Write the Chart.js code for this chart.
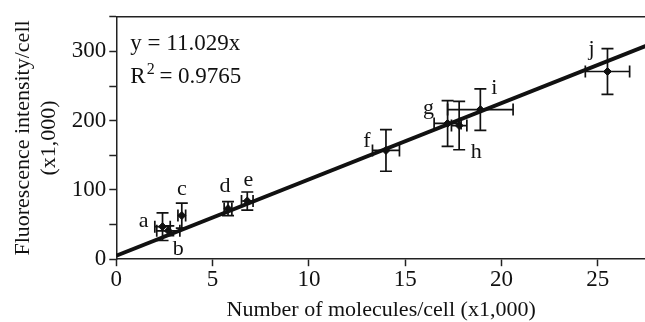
<!DOCTYPE html>
<html>
<head>
<meta charset="utf-8">
<script src="https://cdn.jsdelivr.net/npm/chart.js@4/dist/chart.umd.min.js"></script>
<style>
  html, body { margin: 0; padding: 0; background: #fff; overflow: hidden; }
  #wrap { width: 651px; height: 322px; }
</style>
</head>
<body>
<div id="wrap"><canvas id="grafico"></canvas></div>
<script>
// pontos medidos (x1,000)
const rotulos = ["a", "b", "c", "d", "e", "f", "g", "h", "i", "j"];
const moleculas = [2.4, 2.7, 3.4, 5.8, 6.8, 14.0, 17.2, 17.8, 18.9, 25.5];
const fluorescencia = [47, 41, 63, 73, 84, 157, 196, 193, 216, 271];
const erroX = [0.4, 0.6, 0.2, 0.2, 0.3, 0.7, 0.7, 0.4, 1.7, 1.15];
const erroY = [20, 7, 18, 10, 13, 30, 33, 35, 30, 33];
// posicao do rotulo: dx, dy em pixels
const rotuloDesloc = [[-19, -5], [10, 18], [0, -26], [-3, -22], [1, -21], [-19, -9], [-19, -15], [17, 27], [14, -21], [-16, -22]];

// reta de ajuste
const ajusteX = [0, 27.5];
const ajusteY = [5, 308];

const eixoXTicks = [0, 5, 10, 15, 20, 25];
const eixoYTicks = [0, 100, 200, 300];

const fonte = "'Liberation Serif', 'DejaVu Serif', serif";

const errorBars = {
  id: "errorBars",
  afterDatasetsDraw(chart) {
    const ctx = chart.ctx;
    const sx = chart.scales.x, sy = chart.scales.y;
    const cap = 6;
    ctx.save();
    ctx.strokeStyle = "#111";
    ctx.lineWidth = 1.7;
    moleculas.forEach((x, i) => {
      const y = fluorescencia[i];
      const px = sx.getPixelForValue(x), py = sy.getPixelForValue(y);
      const x0 = sx.getPixelForValue(x - erroX[i]), x1 = sx.getPixelForValue(x + erroX[i]);
      const y0 = sy.getPixelForValue(y - erroY[i]), y1 = sy.getPixelForValue(y + erroY[i]);
      ctx.beginPath();
      ctx.moveTo(x0, py); ctx.lineTo(x1, py);
      ctx.moveTo(x0, py - cap); ctx.lineTo(x0, py + cap);
      ctx.moveTo(x1, py - cap); ctx.lineTo(x1, py + cap);
      ctx.moveTo(px, y0); ctx.lineTo(px, y1);
      ctx.moveTo(px - cap, y0); ctx.lineTo(px + cap, y0);
      ctx.moveTo(px - cap, y1); ctx.lineTo(px + cap, y1);
      ctx.stroke();
    });
    // rotulos das amostras
    ctx.fillStyle = "#111";
    ctx.font = "22px " + fonte;
    ctx.textAlign = "center";
    ctx.textBaseline = "middle";
    moleculas.forEach((x, i) => {
      const px = sx.getPixelForValue(x), py = sy.getPixelForValue(fluorescencia[i]);
      ctx.fillText(rotulos[i], px + rotuloDesloc[i][0], py + rotuloDesloc[i][1]);
    });
    // borda superior
    const a = chart.chartArea;
    ctx.strokeStyle = "#222";
    ctx.lineWidth = 1.5;
    ctx.beginPath();
    ctx.moveTo(a.left, a.top); ctx.lineTo(a.right, a.top);
    ctx.stroke();
    // equacao
    ctx.textAlign = "left";
    ctx.textBaseline = "alphabetic";
    ctx.font = "23px " + fonte;
    const x0 = a.left + 14;
    ctx.fillText("y = 11.029x", x0, a.top + 33);
    ctx.fillText("R", x0, a.top + 66);
    const wR = ctx.measureText("R").width;
    ctx.font = "16px " + fonte;
    ctx.fillText("2", x0 + wR + 1, a.top + 57);
    const w2 = ctx.measureText("2").width;
    ctx.font = "23px " + fonte;
    ctx.fillText(" = 0.9765", x0 + wR + w2, a.top + 66);
    ctx.restore();
  }
};

const ctx = document.getElementById("grafico").getContext("2d");
new Chart(ctx, {
  type: "scatter",
  data: {
    datasets: [
      {
        type: "line",
        data: ajusteX.map((x, i) => ({ x: x, y: ajusteY[i] })),
        borderColor: "#111",
        borderWidth: 3.8,
        pointRadius: 0,
        fill: false
      },
      {
        data: moleculas.map((x, i) => ({ x: x, y: fluorescencia[i] })),
        backgroundColor: "#111",
        borderColor: "#111",
        pointStyle: "rectRot",
        pointRadius: 4
      }
    ]
  },
  options: {
    responsive: true,
    maintainAspectRatio: false,
    animation: false,
    layout: { padding: { top: 9, right: 0, left: 6, bottom: 0 } },
    plugins: { legend: { display: false }, tooltip: { enabled: false } },
    scales: {
      x: {
        type: "linear",
        min: 0,
        max: 27.5,
        afterBuildTicks: s => { s.ticks = eixoXTicks.map(v => ({ value: v })); },
        ticks: { color: "#111", font: { family: fonte, size: 23 }, padding: 0, maxRotation: 0 },
        grid: { drawOnChartArea: false, tickLength: 7, tickColor: "#222", tickWidth: 1.5 },
        border: { color: "#222", width: 1.5 },
        title: { display: true, text: "Number of molecules/cell (x1,000)", color: "#111", font: { family: fonte, size: 22, lineHeight: 1.1 }, padding: { top: 4, bottom: 0 } }
      },
      y: {
        min: 0,
        max: 350,
        ticks: {
          stepSize: 50,
          color: "#111",
          font: { family: fonte, size: 23 },
          padding: 3,
          callback: v => eixoYTicks.includes(v) ? v : ""
        },
        grid: { drawOnChartArea: false, tickLength: 7, tickColor: "#222", tickWidth: 1.5 },
        border: { color: "#222", width: 1.5 },
        title: { display: true, text: ["Fluorescence intensity/cell", "(x1,000)"], color: "#111", font: { family: fonte, size: 22, lineHeight: 1.2 }, padding: { bottom: 6 } }
      }
    }
  },
  plugins: [errorBars]
});
</script>
</body>
</html>
